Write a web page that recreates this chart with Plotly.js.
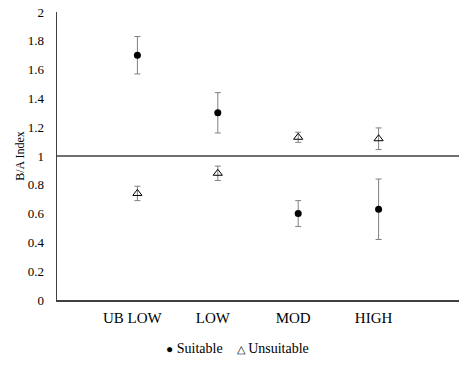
<!DOCTYPE html>
<html>
<head>
<meta charset="utf-8">
<script src="https://cdn.plot.ly/plotly-3.0.1.min.js"></script>
<style>html,body{margin:0;padding:0;background:#fff;}#chart{width:474px;height:365px;}</style>
</head>
<body>
<div id="chart"></div>
<script>
var categories = ["UB LOW", "LOW", "MOD", "HIGH"];
var xPositions = [1, 2, 3, 4];
var seriesNames = ["Suitable", "Unsuitable"];
var suitable = [1.70, 1.30, 0.60, 0.63];
var suitableErr = [0.13, 0.14, 0.09, 0.21];
var unsuitable = [0.74, 0.88, 1.13, 1.12];
var unsuitableErr = [0.05, 0.05, 0.035, 0.075];
var yTicks = [0, 0.2, 0.4, 0.6, 0.8, 1, 1.2, 1.4, 1.6, 1.8, 2];
var yTickText = ["0", "0.2", "0.4", "0.6", "0.8", "1", "1.2", "1.4", "1.6", "1.8", "2"];
var refLine = 1;

var font = "Liberation Serif";

var traces = [
  {
    type: "scatter", mode: "markers", name: seriesNames[0],
    x: xPositions, y: suitable,
    marker: {symbol: "circle", size: 7, color: "#000000"},
    error_y: {type: "data", array: suitableErr, visible: true, color: "#808080", thickness: 1, width: 3}
  },
  {
    type: "scatter", mode: "markers", name: seriesNames[1],
    x: xPositions, y: unsuitable,
    marker: {symbol: "triangle-up-open", size: 8, color: "#000000", line: {width: 1, color: "#000000"}},
    error_y: {type: "data", array: unsuitableErr, visible: true, color: "#808080", thickness: 1, width: 3}
  }
];

var nb = "\u00A0";
var legendText = '<span style="font-size:12px">\u25CF</span>' + nb + seriesNames[0] +
  nb + nb + nb + nb + '<span style="font-size:11px">\u25B3</span>' + nb + seriesNames[1];

var layout = {
  width: 474, height: 365,
  margin: {l: 57, r: 15, t: 12, b: 65},
  paper_bgcolor: "#ffffff", plot_bgcolor: "#ffffff",
  font: {family: font, color: "#000000", size: 13},
  showlegend: false,
  xaxis: {
    range: [0, 5], tickmode: "array", tickvals: xPositions, ticktext: categories,
    showgrid: false, zeroline: false, showline: true, linecolor: "#404040", linewidth: 1.5,
    ticks: "", tickfont: {family: font, size: 15, color: "#000000"},
    ticklabelshift: -5, ticklabelstandoff: 3, fixedrange: true
  },
  yaxis: {
    range: [0, 2], tickmode: "array", tickvals: yTicks, ticktext: yTickText,
    showgrid: false, zeroline: false, showline: true, linecolor: "#404040", linewidth: 1.5,
    ticks: "", tickfont: {family: font, size: 13, color: "#000000"},
    ticklabelstandoff: 9,
    title: {text: "B/A Index", font: {family: font, size: 12, color: "#000000"}, standoff: 0},
    fixedrange: true
  },
  annotations: [
    {xref: "paper", yref: "paper", x: 0.449, y: -0.167, xanchor: "center", yanchor: "middle",
     showarrow: false, text: legendText, font: {family: font, size: 14, color: "#000000"}}
  ],
  shapes: [
    {type: "line", xref: "paper", yref: "y", x0: 0, x1: 1, y0: refLine, y1: refLine,
     line: {color: "#404040", width: 1.5}}
  ]
};

Plotly.newPlot("chart", traces, layout, {displayModeBar: false, staticPlot: true});
</script>
</body>
</html>
